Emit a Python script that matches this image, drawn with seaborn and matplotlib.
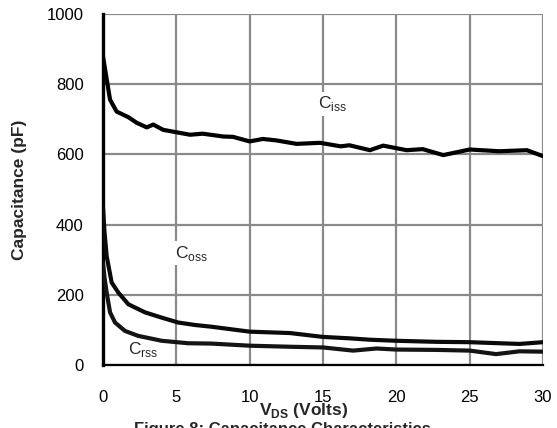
import matplotlib
matplotlib.use("Agg")
import matplotlib.pyplot as plt
import seaborn as sns
import pandas as pd

# ---- data ----
v_iss = [0, 0.48, 0.93, 1.73, 2.3, 2.98, 3.43, 4.1, 5.93, 6.8, 8.2, 8.86, 10, 10.9,
         11.8, 13.2, 14.8, 16.2, 16.8, 18.2, 19.1, 20.7, 21.8, 23.2, 25, 27, 28.9, 30]
c_iss = [879, 756, 722, 706, 690, 677, 685, 670, 656, 659, 651, 650, 637, 644,
         640, 630, 633, 623, 626, 612, 625, 612, 615, 598, 614, 609, 612, 595]

v_oss = [0, 0.1, 0.25, 0.59, 1.05, 1.73, 2.86, 4.0, 5.13, 6.27, 7.4, 10, 12.75,
         15, 16.8, 18.2, 20, 22.75, 25, 28.4, 30]
c_oss = [450, 380, 310, 235, 206, 173, 150, 135, 121, 114, 109, 95, 91,
         80, 76, 72, 69, 66, 65, 60, 65]

v_rss = [0, 0.1, 0.25, 0.48, 0.82, 1.5, 2.4, 4, 5.8, 7.4, 10, 12.75, 15, 17.05,
         18.65, 20, 22.75, 25, 26.8, 28.4, 30]
c_rss = [290, 250, 206, 150, 121, 97, 83, 69, 62, 61, 55, 52, 50, 41,
         47, 44, 43, 41, 31, 39, 38]

series_names = ["Ciss", "Coss", "Crss"]
x_ticks = [0, 5, 10, 15, 20, 25, 30]
y_ticks = [0, 200, 400, 600, 800, 1000]

df = pd.concat([
    pd.DataFrame({"V": v_iss, "C": c_iss, "s": "Ciss"}),
    pd.DataFrame({"V": v_oss, "C": c_oss, "s": "Coss"}),
    pd.DataFrame({"V": v_rss, "C": c_rss, "s": "Crss"}),
])

sns.set_style("white")
plt.rcParams["font.family"] = ["Liberation Sans", "DejaVu Sans"]
plt.rcParams["mathtext.fontset"] = "custom"
plt.rcParams["mathtext.rm"] = "Liberation Sans"
plt.rcParams["mathtext.bf"] = "Liberation Sans:bold"

fig = plt.figure(figsize=(5.57, 4.28), dpi=100)
ax = fig.add_axes([103/557, 1 - 365/428, 440/557, 351/428])

sns.lineplot(data=df, x="V", y="C", hue="s", hue_order=series_names,
             palette=["#000000", "#0a0a0a", "#141414"], linewidth=3.0,
             legend=False, ax=ax, estimator=None, sort=False, zorder=3)

ax.set_xlim(0, 30)
ax.set_ylim(0, 1000)
ax.set_xticks(x_ticks)
ax.set_yticks(y_ticks)
ax.set_xticklabels([str(t) for t in x_ticks])
ax.set_yticklabels([str(t) for t in y_ticks])
ax.grid(True, color="#8a8a8a", linewidth=1.6, zorder=0)
ax.set_axisbelow(True)
for s in ["top", "right"]:
    ax.spines[s].set_visible(False)
ax.spines["left"].set_color("black")
ax.spines["left"].set_linewidth(2.4)
ax.spines["bottom"].set_color("black")
ax.spines["bottom"].set_linewidth(1.6)
ax.tick_params(axis="both", length=0, labelsize=12, colors="black")
ax.tick_params(axis="x", pad=18)
ax.tick_params(axis="y", pad=14)

ax.set_ylabel("Capacitance (pF)", fontsize=12.5, fontweight="bold", labelpad=14)
ax.set_xlabel(r"V$_{\mathbf{DS}}$ (Volts)", fontsize=12.5, fontweight="bold")
ax.xaxis.set_label_coords((304 - 103) / 440, (365 - 410) / 351)
ax.xaxis.label.set_verticalalignment("center")

box = dict(facecolor="white", edgecolor="none", pad=2)
ax.text(14.66, 744, r"C$_\mathregular{iss}$", fontsize=12.5, ha="left", va="center", bbox=box, zorder=2)
ax.text(4.9, 319, r"C$_\mathregular{oss}$", fontsize=12.5, ha="left", va="center", bbox=box, zorder=2)
ax.text(1.7, 43, r"C$_\mathregular{rss}$", fontsize=12.5, ha="left", va="center", zorder=4)

fig.text(282 / 557, 1 - 422 / 428, "Figure 8: Capacitance Characteristics",
         fontsize=12, fontweight="bold", ha="center", va="top")

fig.savefig("out.png", dpi=100)
